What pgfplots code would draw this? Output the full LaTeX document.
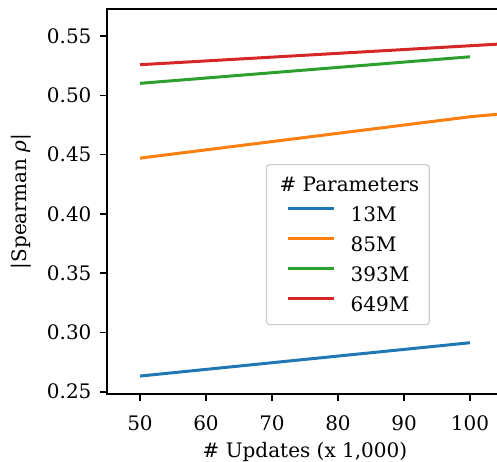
\documentclass[border=0pt]{standalone}
\usepackage{fontspec}
\setmainfont{DejaVu Serif}
\usepackage{pgfplots}
\pgfplotsset{compat=1.18}
\definecolor{tabblue}{HTML}{1F77B4}
\definecolor{taborange}{HTML}{FF7F0E}
\definecolor{tabgreen}{HTML}{2CA02C}
\definecolor{tabred}{HTML}{D62728}
\begin{document}
\begin{tikzpicture}
\begin{scope}
\clip (-107pt,-67pt) rectangle (390pt,394pt);
\begin{axis}[
  scale only axis, width=726pt, height=385pt,
  at={(0pt,0pt)}, anchor=south west,
  xmin=45, xmax=155, ymin=0.24806, ymax=0.5728,
  xtick={50,60,...,100},
  ytick={0.25,0.30,0.35,0.40,0.45,0.50,0.55},
  yticklabel style={/pgf/number format/fixed, /pgf/number format/fixed zerofill, /pgf/number format/precision=2},
  /pgf/number format/assume math mode=true,
  tick label style={font=\fontsize{20}{24}\selectfont},
  label style={font=\fontsize{20}{24}\selectfont},
  xtick pos=bottom, ytick pos=left, tick align=outside,
  major tick length=7pt,
  every tick/.style={black, line width=1.6pt},
  axis line style={line width=1.6pt},
  xticklabel style={yshift=-11pt},
  yticklabel style={xshift=-5pt},
  xlabel={\# Updates (x 1,000)},
  xlabel style={at={(rel axis cs:0.2727,-0.150)}, anchor=center},
  ylabel={|Spearman \textit{ρ}|},
  ylabel style={at={(rel axis cs:-0.1185,0.5)}, anchor=center},
  legend cell align=left,
  legend image code/.code={\draw[line width=3pt] (0pt,6pt) -- (46pt,6pt);},
  legend style={at={(rel axis cs:0.219,0.5974)}, anchor=north west,
    draw=black!20, line width=1.2pt, rounded corners=3pt, fill=white, fill opacity=0.8, text opacity=1,
    font=\fontsize{20}{24}\selectfont, row sep=10pt, column sep=15pt,
    inner xsep=20pt, inner ysep=10pt,
    nodes={inner sep=0pt, text height=17pt, text depth=3pt}},
]
\addlegendimage{empty legend}
\addlegendentry{\hspace*{-71pt}\# Parameters\hspace*{-11pt}}
\addplot[tabblue, line width=3pt] coordinates {(50,0.2632) (100,0.2913)};
\addlegendentry{13M}
\addplot[taborange, line width=3pt] coordinates {(50,0.4470) (100,0.4819) (150,0.5075)};
\addlegendentry{85M}
\addplot[tabgreen, line width=3pt] coordinates {(50,0.5101) (100,0.5325)};
\addlegendentry{393M}
\addplot[tabred, line width=3pt] coordinates {(50,0.5258) (100,0.5418) (150,0.5579)};
\addlegendentry{649M}
\end{axis}
\end{scope}
\pgfresetboundingbox
\useasboundingbox (-107pt,-67pt) rectangle (390pt,394pt);
\end{tikzpicture}
\end{document}
